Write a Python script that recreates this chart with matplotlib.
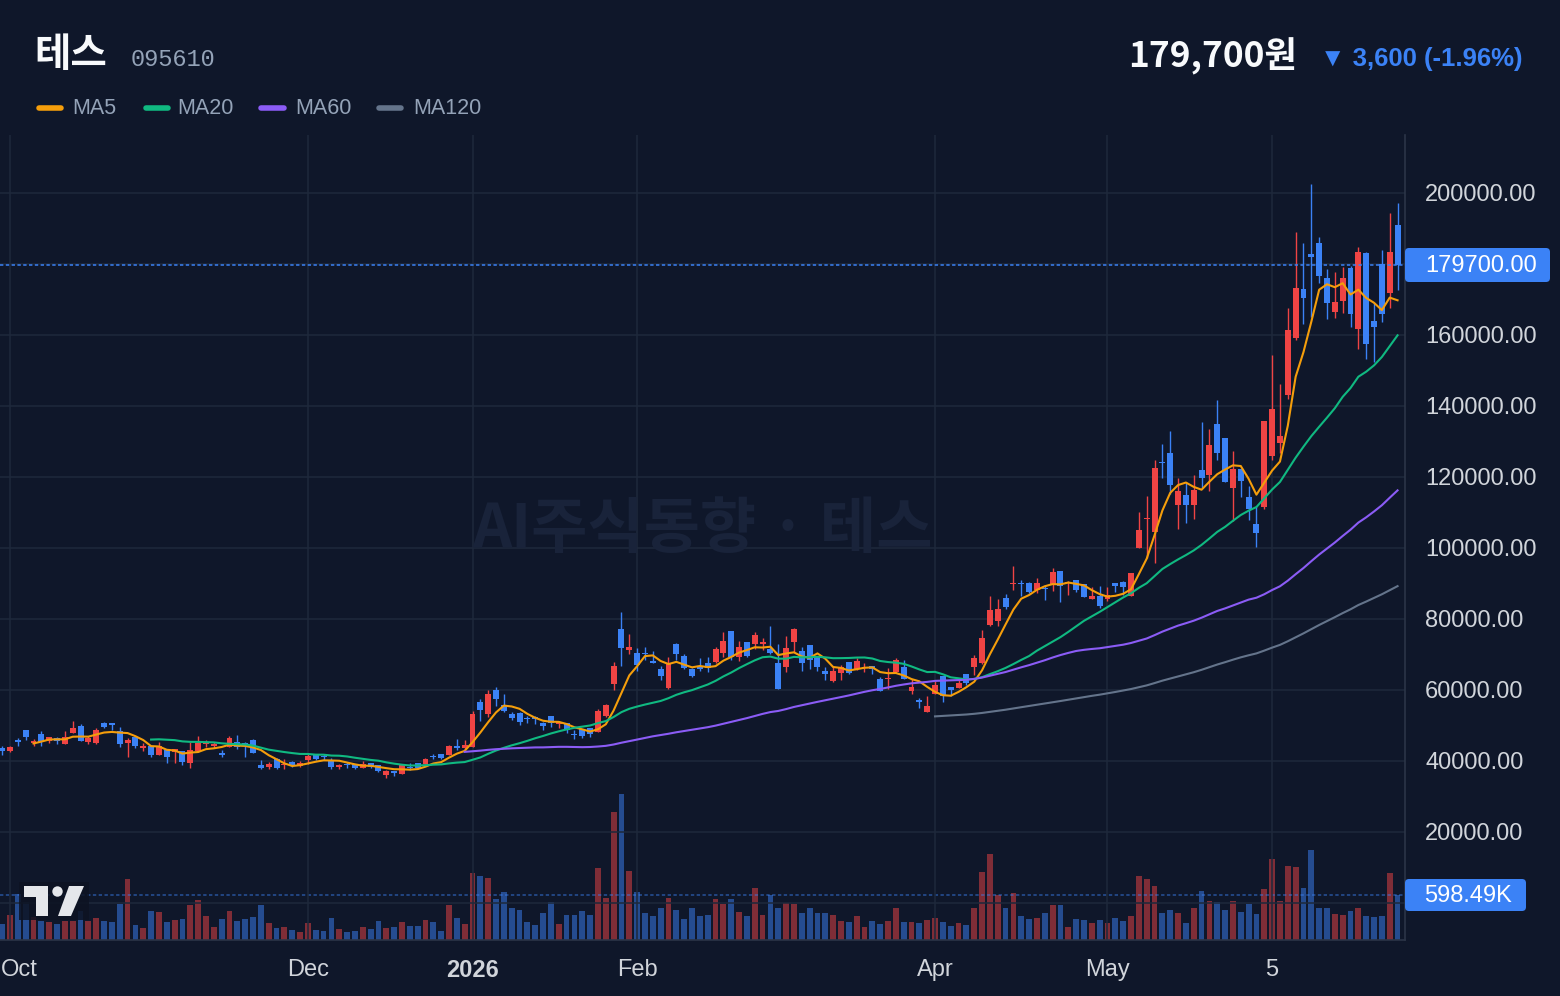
import matplotlib
matplotlib.use("Agg")
import matplotlib.pyplot as plt
import numpy as np
import pandas as pd
from matplotlib.patches import FancyBboxPatch, Polygon, Circle, Rectangle

# ---------------- data ----------------
opens = [43570, 42910, 45920, 48730, 44980, 47600, 45730, 46380, 44790, 47790,
         49860, 45260, 44980, 50800, 50610, 48450, 45160, 46850, 43570, 44320,
         41690, 43100, 42630, 42820, 39530, 42910, 44690, 44320, 42160, 43850,
         45450, 45160, 45920, 38870, 38400, 40470, 38870, 39720, 38690, 40280,
         41690, 41410, 40280, 38400, 39060, 39060, 38120, 39340, 38870, 36060,
         37180, 36430, 38400, 39340, 39150, 41500, 41970, 41690, 44320, 43570,
         44040, 56710, 53240, 60000, 55770, 53240, 53610, 52020, 52210, 50800,
         52680, 50420, 50610, 47510, 48920, 49290, 48260, 52680, 61600, 77180,
         71270, 70520, 70330, 67980, 65820, 60470, 72960, 69580, 65820, 66850,
         67510, 67980, 70520, 76620, 69390, 73430, 72860, 72960, 71460, 67510,
         66380, 73620, 70990, 72680, 69580, 65350, 62630, 64880, 67790, 65820,
         66100, 66760, 63100, 63000, 65160, 66380, 59810, 57180, 53900, 58780,
         63940, 60750, 60470, 64510, 66570, 67700, 78310, 79530, 86010, 89770,
         90240, 90240, 88170, 88830, 89770, 93520, 90050, 90990, 89770, 85540,
         86570, 85540, 90050, 90330, 86570, 100090, 108170, 104600, 124040, 126850,
         112110, 114930, 112110, 121970, 120560, 134930, 130890, 116990, 122250, 114270,
         106670, 111450, 125910, 129480, 143100, 159060, 172960, 182820, 186010, 176150,
         166570, 169580, 178970, 161690, 183190, 163940, 179910, 171920, 190990]
highs = [44220, 44220, 46570, 48730, 46200, 48450, 46760, 46850, 48450, 51270,
         50420, 47040, 49390, 50990, 50800, 49580, 46480, 46850, 44980, 44320,
         45350, 43100, 43380, 42820, 45450, 47040, 45920, 45450, 43100, 47040,
         47320, 45450, 46200, 40280, 39810, 40750, 40470, 40000, 40000, 41970,
         41690, 41970, 40750, 39150, 39620, 39060, 40000, 39340, 38870, 37460,
         37180, 38870, 39340, 39340, 40750, 41970, 41970, 44510, 46200, 45910,
         54080, 57370, 60000, 60750, 58870, 53710, 53900, 52680, 52680, 51080,
         52680, 51360, 50610, 48730, 48920, 49290, 54650, 55960, 67890, 81880,
         75770, 71740, 72020, 70990, 66760, 69200, 73330, 70140, 66100, 68920,
         69200, 72020, 76240, 76620, 73800, 73430, 76240, 74740, 78030, 72860,
         75210, 77370, 72020, 72680, 69580, 66380, 66850, 67040, 67790, 68920,
         67510, 66760, 63570, 66100, 68920, 68450, 63000, 57650, 58310, 62630,
         63940, 60940, 63470, 64510, 69860, 76900, 86480, 85630, 87040, 94930,
         90990, 90520, 91460, 89300, 94270, 93520, 90700, 90990, 89770, 88920,
         89300, 88920, 90050, 90700, 92860, 110230, 114650, 124790, 129300, 132960,
         119620, 118690, 120560, 135400, 133520, 141690, 130890, 127320, 122250, 117460,
         111830, 135770, 154360, 146200, 167700, 189110, 186010, 202540, 187700, 178590,
         177840, 179250, 179440, 184880, 183470, 168920, 183940, 194270, 197090]
lows = [41690, 42540, 44320, 45920, 44320, 44320, 45160, 44790, 44790, 47790,
        45730, 44790, 44790, 49390, 48730, 44040, 41220, 43760, 42820, 41220,
        41690, 39530, 39530, 38870, 38120, 42540, 43850, 43570, 41220, 43850,
        43290, 41220, 42160, 37750, 37750, 37750, 37650, 38400, 38400, 39150,
        40280, 40280, 37750, 37650, 38120, 37750, 38120, 38120, 36990, 35310,
        35770, 36430, 37460, 37750, 39060, 40560, 40470, 41690, 43100, 43100,
        44040, 51360, 52490, 55490, 53900, 51550, 50140, 50800, 50420, 48730,
        49670, 49390, 47790, 46100, 46380, 46670, 48070, 52490, 60000, 66760,
        70140, 65450, 68450, 67510, 62820, 60280, 68450, 65920, 63760, 65450,
        65160, 67700, 69200, 68450, 68260, 69390, 71550, 71270, 70050, 60280,
        65160, 70800, 65450, 65820, 65450, 62820, 62350, 62820, 64510, 65630,
        65160, 64510, 59810, 60280, 64690, 63100, 58870, 55020, 53900, 58780,
        56710, 58310, 60470, 61410, 64230, 67320, 78030, 78120, 82820, 88170,
        86570, 87420, 87420, 85350, 87980, 84880, 86760, 87700, 86290, 85540,
        83010, 85070, 87700, 86760, 86570, 99900, 97090, 95870, 119810, 115120,
        105260, 106950, 108070, 116810, 116060, 124790, 118500, 107610, 114460, 107890,
        100370, 110890, 124780, 126660, 141970, 158590, 163100, 165160, 174550, 164510,
        164880, 166100, 162350, 156050, 153240, 152300, 163750, 167700, 172680]
closes = [42820, 43850, 45450, 46850, 45730, 45450, 46760, 45730, 46850, 49390,
          45730, 46570, 48730, 49670, 50230, 44790, 45920, 44320, 44220, 41690,
          44320, 41220, 43380, 39810, 43100, 45160, 45260, 44510, 41690, 46380,
          43850, 44790, 42350, 38120, 39060, 38120, 39060, 38590, 39340, 41410,
          40560, 41030, 38400, 38970, 38870, 38030, 39060, 38400, 37280, 37180,
          36530, 38870, 37930, 38120, 40560, 41030, 40750, 44230, 43760, 44510,
          53240, 54370, 58870, 57460, 54080, 52020, 51080, 51740, 51920, 49950,
          50610, 50890, 48730, 47320, 47040, 47510, 54080, 55770, 66760, 71920,
          72020, 67040, 70050, 67700, 64040, 67700, 70140, 66100, 63940, 65920,
          66100, 71550, 73800, 69200, 72020, 69670, 75490, 73430, 70330, 60280,
          71920, 77090, 67700, 68450, 66380, 64510, 65350, 66380, 64880, 68170,
          66570, 65820, 59810, 63290, 68450, 63100, 60750, 56620, 55490, 61410,
          58400, 60000, 62070, 62070, 69110, 74550, 82540, 82720, 83470, 90050,
          89860, 87700, 90050, 88450, 93150, 89390, 90330, 88170, 86290, 86480,
          83760, 86760, 89390, 89110, 92860, 105070, 108540, 122440, 123850, 117750,
          116060, 112110, 116340, 119810, 129010, 126670, 118690, 122250, 118870, 110980,
          104320, 135770, 139150, 131550, 161410, 173330, 170520, 181880, 176620, 169110,
          169200, 176150, 165910, 183470, 157460, 162350, 165910, 183470, 179700]
volumes_k = [211, 338, 617, 500, 311, 257, 243, 212, 257, 257,
             392, 257, 297, 257, 243, 473, 810, 203, 162, 392,
             378, 243, 270, 284, 459, 527, 324, 176, 284, 392,
             257, 284, 311, 459, 230, 162, 176, 135, 108, 230,
             135, 122, 297, 149, 108, 122, 176, 149, 257, 162,
             176, 243, 189, 189, 270, 243, 122, 459, 297, 216,
             891, 851, 824, 540, 635, 419, 405, 243, 203, 365,
             500, 216, 338, 338, 392, 338, 959, 554, 1701, 1944,
             918, 635, 365, 324, 419, 554, 405, 284, 419, 324,
             338, 540, 473, 540, 378, 324, 689, 338, 594, 432,
             486, 473, 365, 419, 365, 365, 338, 257, 243, 324,
             176, 257, 216, 257, 419, 243, 243, 230, 270, 297,
             243, 189, 230, 203, 432, 905, 1148, 594, 419, 621,
             324, 284, 297, 365, 459, 459, 176, 284, 270, 230,
             270, 230, 297, 257, 324, 851, 810, 716, 365, 405,
             365, 230, 419, 648, 513, 500, 405, 513, 378, 473,
             351, 675, 1080, 513, 986, 972, 689, 1202, 432, 419,
             351, 338, 392, 432, 324, 311, 324, 891, 598.49]

tick_pos = [1, 39, 60, 81, 119, 141, 162]
tick_labels = ["Oct", "Dec", "2026", "Feb", "Apr", "May", "5"]
price_ticks = [0, 20000, 40000, 60000, 80000, 100000, 120000, 140000,
               160000, 180000, 200000]
ma_periods = [5, 20, 60, 120]
ma_colors = ["#f59e0b", "#10b981", "#8b5cf6", "#64748b"]
last_price = 179700
last_volume = 598490

# ---------------- style ----------------
BG = "#0f172a"
GRID = "#1e293b"
UP = "#ef4444"
DOWN = "#3b82f6"
AXTXT = "#d1d5db"
SANS = ["Liberation Sans", "DejaVu Sans"]
KR = ["Noto Sans CJK KR", "DejaVu Sans"]

W, H = 1560, 996
fig = plt.figure(figsize=(W / 100, H / 100), dpi=100)
fig.patch.set_facecolor(BG)

def fy(py):
    return 1 - py / H

PL, PR, PT, PB = 0, 1405, 135, 940
ax = fig.add_axes([PL / W, 1 - PB / H, (PR - PL) / W, (PB - PT) / H])
ax.set_facecolor(BG)

o = np.array(opens, float)
h = np.array(highs, float)
l = np.array(lows, float)
c = np.array(closes, float)
v = np.array(volumes_k, float) * 1000
n = len(c)
x = np.arange(n)
up = c >= o
col = np.where(up, UP, DOWN)

ax.set_ylim(-10423, 216338)
ax.set_xlim(-0.2755, 178.95)

# grid
for p in price_ticks:
    ax.axhline(p, color=GRID, lw=1.1, zorder=0)
for t in tick_pos:
    ax.axvline(t, color=GRID, lw=1.1, zorder=0)

# watermark
ax.text(0.5, 0.509, "AI주식동향 · 테스", transform=ax.transAxes, ha="center",
        va="center", fontsize=44, fontweight="bold", color="#19233a",
        family=KR, zorder=0.5)

# volume on a twin axis
axv = ax.twinx()
axv.set_ylim(0, last_volume * (PB - PT) / 45.0)
axv.bar(x, v, width=0.74, color=col, alpha=0.5, linewidth=0, zorder=1)
axv.axhline(last_volume, color=DOWN, alpha=0.55, lw=1.1, ls=(0, (2.2, 1.6)), zorder=2)
axv.set_yticks([])
for s in axv.spines.values():
    s.set_visible(False)
ax.set_zorder(2)
axv.set_zorder(1)
ax.patch.set_visible(False)
axv.patch.set_facecolor(BG)
axv.patch.set_visible(True)

# candles
ax.vlines(x, l, h, colors=col, lw=1.0, zorder=3)
body_lo = np.minimum(o, c)
body_h = np.maximum(np.abs(c - o), 350)
ax.bar(x, body_h, bottom=body_lo, width=0.76, color=col, linewidth=0, zorder=4)

# moving averages
cs = pd.Series(c)
for per, mc in zip(ma_periods, ma_colors):
    ma = cs.rolling(per).mean()
    ax.plot(x, ma, color=mc, lw=1.5, zorder=5, solid_joinstyle="round")

# last price line
ax.axhline(last_price, color=DOWN, lw=1.1, ls=(0, (2.2, 1.6)), zorder=6)

# axes decoration
ax.yaxis.tick_right()
ax.set_yticks(price_ticks)
ax.set_yticklabels(["" if (p == 0 or p == 180000) else f"{p:.2f}" for p in price_ticks])
ax.tick_params(axis="y", length=0, pad=14.5, labelsize=17, labelcolor=AXTXT)
ax.set_xticks(tick_pos)
ax.set_xticklabels(["" if t == "Oct" else t for t in tick_labels])
ax.tick_params(axis="x", length=0, pad=14, labelsize=17, labelcolor=AXTXT)
for lab in ax.get_xticklabels() + ax.get_yticklabels():
    lab.set_family(SANS)
for lab in ax.get_xticklabels():
    if lab.get_text() == "2026":
        lab.set_fontweight("bold")
fig.text(0.5 / W, fy(970), "Oct", ha="left", va="center", fontsize=17,
         color=AXTXT, family=SANS)
for side in ["top", "left"]:
    ax.spines[side].set_visible(False)
for side in ["right", "bottom"]:
    ax.spines[side].set_color("#2b3547")
    ax.spines[side].set_linewidth(1.2)

# overlay for labels/logo
ov = fig.add_axes([0, 0, 1, 1])
ov.set_xlim(0, W)
ov.set_ylim(H, 0)
ov.axis("off")
ov.set_zorder(10)
ov.patch.set_visible(False)

ov.add_patch(FancyBboxPatch((1405, 248), 145, 34,
             boxstyle="round,pad=0,rounding_size=4", fc=DOWN, ec="none"))
fig.text(1425 / W, fy(265.5), f"{last_price:.2f}", ha="left", va="center",
         fontsize=17, color="white", family=SANS, zorder=11)
ov.add_patch(FancyBboxPatch((1405, 879), 121, 32,
             boxstyle="round,pad=0,rounding_size=4", fc=DOWN, ec="none"))
fig.text(1424 / W, fy(895.5), "598.49K", ha="left", va="center",
         fontsize=17, color="white", family=SANS, zorder=11)

# TradingView-like logo
LOGO = "#e5e7eb"
ov.add_patch(Rectangle((19, 882), 70, 38, fc="#0d1322", ec="none", alpha=0.85))
ov.add_patch(Polygon([(24, 886), (48, 886), (48, 916), (36, 916), (36, 897), (24, 897)],
                     closed=True, fc=LOGO, ec="none"))
ov.add_patch(Circle((57.5, 891.5), 5.2, fc=LOGO, ec="none"))
ov.add_patch(Polygon([(58, 916), (71, 916), (84, 886), (69, 886)], closed=True,
                     fc=LOGO, ec="none"))

# header
fig.text(34 / W, fy(55), "테스", ha="left", va="center", fontsize=28.5,
         fontweight="bold", color="#f8fafc", family=KR)
fig.text(131 / W, fy(60), "095610", ha="left", va="center", fontsize=17,
         color="#94a3b8", family=["Liberation Mono", "DejaVu Sans Mono"])
fig.text(1297 / W, fy(56), "179,700원", ha="right", va="center", fontsize=25.5,
         fontweight="bold", color="#f8fafc", family=KR)
fig.text(1523 / W, fy(59), "▼ 3,600 (-1.96%)", ha="right", va="center",
         fontsize=18.5, fontweight="bold", color=DOWN,
         family=["Liberation Sans", "DejaVu Sans"])

# legend
leg_items = [("MA5", 36, 63, 72), ("MA20", 143, 170, 177),
             ("MA60", 258, 286, 295), ("MA120", 376, 403, 413)]
for (name, x0, x1, tx), mc in zip(leg_items, ma_colors):
    ov.plot([x0 + 2.5, x1 - 2.5], [107.5, 107.5], color=mc, lw=4, solid_capstyle="round")
    fig.text(tx / W, fy(108), name, ha="left", va="center", fontsize=15.5,
             color="#94a3b8", family=SANS)

fig.savefig("out.png", dpi=100, facecolor=BG)
